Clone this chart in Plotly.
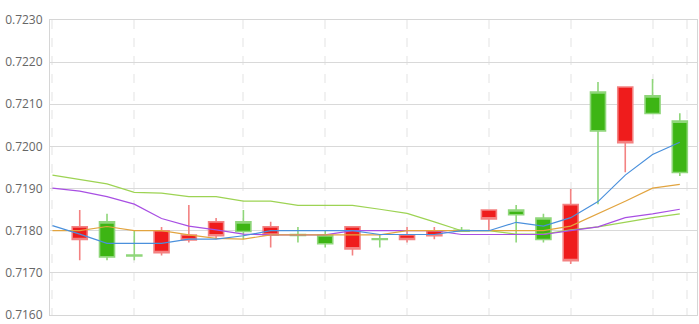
import plotly.graph_objects as go

idx = list(range(24))

opens  = [None, 0.71809, 0.71738, 0.71740, 0.71800, 0.71790, 0.71821, 0.71798, 0.71809, 0.71789,
          0.71769, 0.71809, 0.71779, 0.71790, 0.71800, 0.71799, 0.71849, 0.71838, 0.71779, 0.71862,
          0.72037, 0.72141, 0.72078, 0.71938]
highs  = [None, 0.71849, 0.71840, 0.71800, 0.71809, 0.71861, 0.71830, 0.71849, 0.71821, 0.71809,
          0.71800, 0.71809, 0.71790, 0.71809, 0.71809, 0.71809, 0.71849, 0.71861, 0.71840, 0.71899,
          0.72153, 0.72141, 0.72160, 0.72079]
lows   = [None, 0.71730, 0.71730, 0.71730, 0.71741, 0.71772, 0.71780, 0.71780, 0.71760, 0.71772,
          0.71760, 0.71741, 0.71760, 0.71772, 0.71780, 0.71798, 0.71800, 0.71772, 0.71772, 0.71721,
          0.71863, 0.71939, 0.72078, 0.71930]
closes = [None, 0.71779, 0.71821, 0.71742, 0.71748, 0.71778, 0.71788, 0.71821, 0.71790, 0.71791,
          0.71790, 0.71757, 0.71781, 0.71779, 0.71788, 0.71801, 0.71828, 0.71849, 0.71830, 0.71729,
          0.72129, 0.72009, 0.72120, 0.72060]

ma_blue   = [0.71812, 0.71792, 0.71770, 0.71770, 0.71770, 0.71780, 0.71780, 0.71788, 0.71800, 0.71800,
             0.71800, 0.71800, 0.71791, 0.71791, 0.71791, 0.71800, 0.71800, 0.71820, 0.71811, 0.71831,
             0.71869, 0.71932, 0.71981, 0.72010]
ma_orange = [0.71800, 0.71800, 0.71810, 0.71800, 0.71800, 0.71790, 0.71782, 0.71780, 0.71790, 0.71790,
             0.71790, 0.71790, 0.71790, 0.71800, 0.71800, 0.71800, 0.71800, 0.71800, 0.71800, 0.71811,
             0.71840, 0.71870, 0.71901, 0.71910]
ma_purple = [0.71901, 0.71894, 0.71881, 0.71863, 0.71829, 0.71811, 0.71802, 0.71792, 0.71790, 0.71790,
             0.71790, 0.71800, 0.71800, 0.71800, 0.71800, 0.71791, 0.71791, 0.71791, 0.71791, 0.71800,
             0.71809, 0.71831, 0.71840, 0.71851]
ma_green  = [0.71932, 0.71921, 0.71911, 0.71891, 0.71889, 0.71881, 0.71881, 0.71870, 0.71870, 0.71860,
             0.71860, 0.71860, 0.71851, 0.71841, 0.71821, 0.71800, 0.71800, 0.71792, 0.71792, 0.71802,
             0.71809, 0.71820, 0.71831, 0.71840]

y_ticks = [0.7160, 0.7170, 0.7180, 0.7190, 0.7200, 0.7210, 0.7220, 0.7230]
x_grid = [0, 3, 7, 10, 13, 16, 19, 22, 23.25]

fig = go.Figure()

fig.add_trace(go.Candlestick(
    x=idx, open=opens, high=highs, low=lows, close=closes,
    increasing=dict(line=dict(color="#8fd67a", width=1.6), fillcolor="#3db514"),
    decreasing=dict(line=dict(color="#f38282", width=1.6), fillcolor="#ef1c1c"),
    whiskerwidth=0, showlegend=False,
))

for vals, col in [(ma_green, "#9dd353"), (ma_purple, "#a84fe3"), (ma_orange, "#e2a43f"), (ma_blue, "#4a90dc")]:
    fig.add_trace(go.Scatter(x=idx, y=vals, mode="lines", line=dict(color=col, width=1.2),
                             showlegend=False, hoverinfo="skip"))

fig.update_layout(
    width=699, height=324,
    margin=dict(l=50, r=2, t=20, b=9),
    paper_bgcolor="white", plot_bgcolor="white",
    boxgap=0.45, boxgroupgap=0,
    font=dict(family="Open Sans", size=12, color="#666666"),
)
fig.update_xaxes(
    range=[-0.09, 23.63], rangeslider_visible=False,
    tickvals=x_grid, showticklabels=False, ticks="",
    showgrid=True, gridcolor="#f1f1f1", gridwidth=2, griddash="dash",
    showline=True, linecolor="#d6d6d6", linewidth=1, mirror=True, zeroline=False,
)
fig.update_yaxes(
    range=[0.7160, 0.7230], tickvals=y_ticks, tickformat=".4f",
    showgrid=True, gridcolor="#d9d9d9", gridwidth=1,
    showline=True, linecolor="#d6d6d6", linewidth=1, mirror=True, zeroline=False,
    ticks="", ticklabelstandoff=4,
)

fig.write_html("out.html")
